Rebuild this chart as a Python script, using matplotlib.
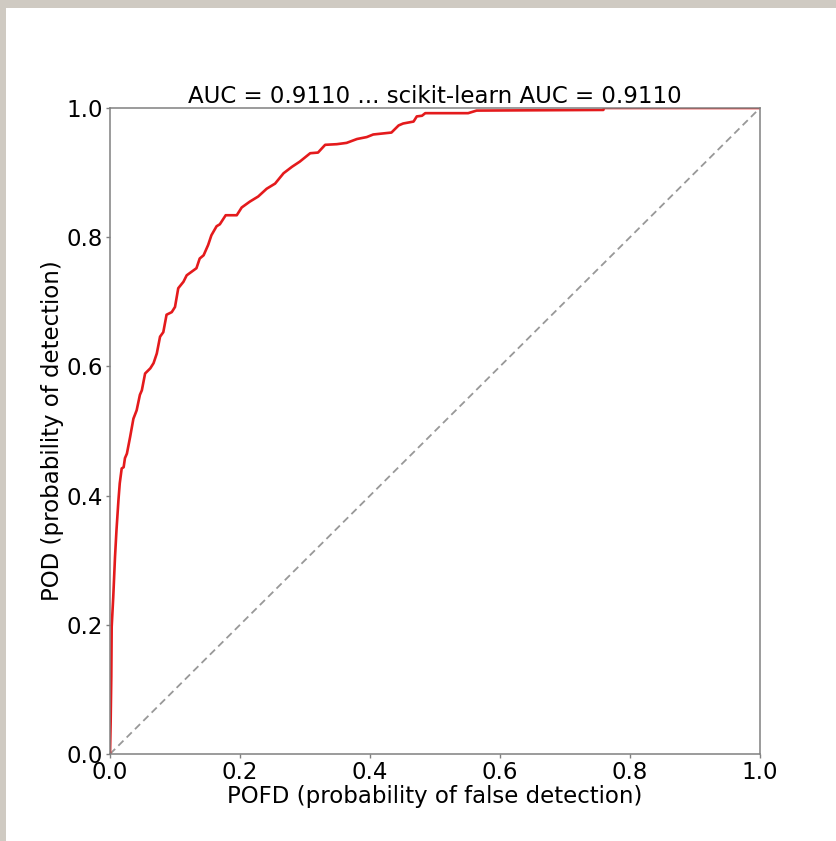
import matplotlib
matplotlib.use("Agg")
import matplotlib.pyplot as plt
from matplotlib.patches import Rectangle

# ROC curve: probability of false detection (POFD) vs probability of detection (POD)
pofd = [0.0, 0.001, 0.002, 0.0026, 0.005, 0.0077, 0.010, 0.013, 0.015, 0.018,
        0.021, 0.023, 0.026, 0.031, 0.036, 0.041, 0.046, 0.049, 0.054, 0.062,
        0.067, 0.072, 0.077, 0.082, 0.087, 0.095, 0.100, 0.105, 0.113, 0.118,
        0.133, 0.138, 0.144, 0.151, 0.156, 0.164, 0.169, 0.178, 0.195, 0.2026,
        0.215, 0.228, 0.241, 0.254, 0.267, 0.280, 0.292, 0.308, 0.320, 0.331,
        0.349, 0.364, 0.380, 0.395, 0.405, 0.433, 0.444, 0.451, 0.467, 0.472,
        0.480, 0.485, 0.551, 0.564, 0.759, 0.760, 1.0]
pod = [0.0, 0.05, 0.12, 0.197, 0.243, 0.305, 0.347, 0.393, 0.419, 0.442,
       0.444, 0.458, 0.465, 0.491, 0.519, 0.532, 0.556, 0.563, 0.589, 0.597,
       0.605, 0.620, 0.646, 0.653, 0.680, 0.684, 0.692, 0.721, 0.731, 0.741,
       0.752, 0.767, 0.772, 0.788, 0.803, 0.817, 0.820, 0.834, 0.834, 0.846,
       0.855, 0.863, 0.875, 0.883, 0.899, 0.909, 0.917, 0.930, 0.931, 0.943,
       0.944, 0.946, 0.952, 0.955, 0.959, 0.962, 0.973, 0.976, 0.979, 0.987,
       0.988, 0.992, 0.992, 0.996, 0.997, 1.0, 1.0]

auc_value = 0.9110
sklearn_auc = 0.9110
ticks = [0.0, 0.2, 0.4, 0.6, 0.8, 1.0]

roc_color = (228 / 255, 26 / 255, 28 / 255)
random_color = (152 / 255, 152 / 255, 152 / 255)
spine_color = "#808080"

plt.rcParams["font.family"] = ["DejaVu Sans"]
fig = plt.figure(figsize=(8.36, 8.41), dpi=100, facecolor="#cfcac2")
# white page on top of the backdrop, beneath the axes
fig.patches.append(Rectangle((6 / 836, 0), 830 / 836, 833 / 841,
                             transform=fig.transFigure, facecolor="white",
                             edgecolor="none", zorder=-10))

ax = fig.add_axes([110 / 836, 1 - 754 / 841, 650 / 836, 646 / 841])
ax.plot([0, 1], [0, 1], linestyle=(0, (4, 2.5)), color=random_color, linewidth=1.3)
ax.plot(pofd, pod, color=roc_color, linewidth=1.9)

ax.set_xlim(0, 1)
ax.set_ylim(0, 1)
ax.set_xticks(ticks)
ax.set_yticks(ticks)
ax.set_xticklabels([f"{t:.1f}" for t in ticks])
ax.set_yticklabels([f"{t:.1f}" for t in ticks])
ax.tick_params(labelsize=16.5, color=spine_color, length=3, width=1, pad=2)
for s in ax.spines.values():
    s.set_color(spine_color)
    s.set_linewidth(1.1)

ax.set_xlabel("POFD (probability of false detection)", fontsize=16.5, labelpad=1)
ax.set_ylabel("POD (probability of detection)", fontsize=16.5, labelpad=2)
ax.set_title(f"AUC = {auc_value:.4f} ... scikit-learn AUC = {sklearn_auc:.4f}",
             fontsize=16.5, pad=3)

fig.savefig("out.png", dpi=100, facecolor=fig.get_facecolor())
